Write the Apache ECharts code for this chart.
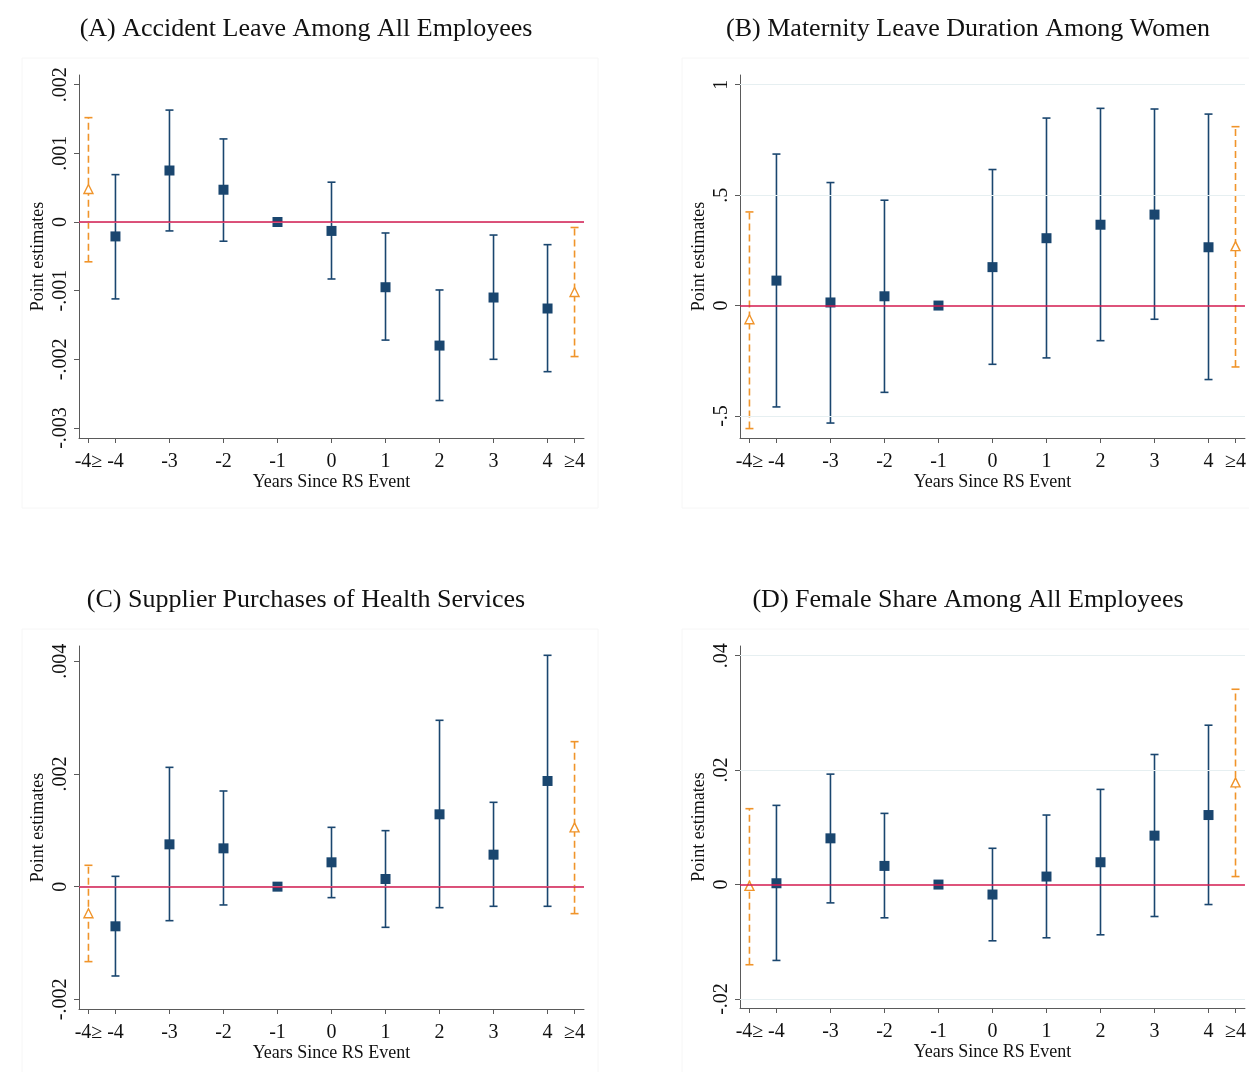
<!DOCTYPE html>
<html>
<head>
<meta charset="utf-8">
<script src="https://cdn.jsdelivr.net/npm/echarts@6/dist/echarts.min.js"></script>
<style>
html,body{margin:0;padding:0;background:#fff;}
#main{width:1249px;height:1072px;}
</style>
</head>
<body>
<div id="main"></div>
<script>
// ---------- shared x positions and labels ----------
const xs = [-4, -3, -2, -1, 0, 1, 2, 3, 4];
const endXs = [-4.5, 4.5];
const xTickVals = [-4.5, -4, -3, -2, -1, 0, 1, 2, 3, 4, 4.5];
const xTickLabels = ['-4\u2265', '-4', '-3', '-2', '-1', '0', '1', '2', '3', '4', '\u22654'];

// ---------- Panel A: Accident Leave Among All Employees ----------
const A_title = '(A) Accident Leave Among All Employees';
const A_est = [-0.00021, 0.00075, 0.00047, 0, -0.00013, -0.00095, -0.00180, -0.00110, -0.00126];
const A_lo  = [-0.00112, -0.00013, -0.00028, 0, -0.00083, -0.00172, -0.00260, -0.00200, -0.00218];
const A_hi  = [0.00069, 0.00163, 0.00121, 0, 0.00058, -0.00016, -0.00099, -0.00019, -0.00033];
const A_endEst = [0.00048, -0.00102];
const A_endLo  = [-0.00058, -0.00196];
const A_endHi  = [0.00152, -0.00008];
const A_yTicks = [-0.003, -0.002, -0.001, 0, 0.001, 0.002];
const A_yLabels = ['-.003', '-.002', '-.001', '0', '.001', '.002'];
const A_yRange = [-0.003146, 0.002141];

// ---------- Panel B: Maternity Leave Duration Among Women ----------
const B_title = '(B) Maternity Leave Duration Among Women';
const B_est = [0.113, 0.014, 0.042, 0, 0.174, 0.305, 0.366, 0.412, 0.264];
const B_lo  = [-0.459, -0.532, -0.393, 0, -0.266, -0.237, -0.159, -0.062, -0.335];
const B_hi  = [0.686, 0.557, 0.477, 0, 0.616, 0.849, 0.893, 0.890, 0.867];
const B_endEst = [-0.062, 0.269];
const B_endLo  = [-0.557, -0.278];
const B_endHi  = [0.424, 0.810];
const B_yTicks = [-0.5, 0, 0.5, 1];
const B_yLabels = ['-.5', '0', '.5', '1'];
const B_yRange = [-0.5997, 1.044];

// ---------- Panel C: Supplier Purchases of Health Services ----------
const C_title = '(C) Supplier Purchases of Health Services';
const C_est = [-0.000704, 0.000751, 0.000680, 0, 0.000432, 0.000136, 0.001284, 0.000568, 0.001876];
const C_lo  = [-0.001586, -0.000604, -0.000325, 0, -0.000195, -0.000722, -0.000373, -0.000349, -0.000349];
const C_hi  = [0.000183, 0.002118, 0.001698, 0, 0.001053, 0.000994, 0.002953, 0.001497, 0.004107];
const C_endEst = [-0.000473, 0.001053];
const C_endLo  = [-0.001331, -0.000479];
const C_endHi  = [0.000379, 0.002574];
const C_yTicks = [-0.002, 0, 0.002, 0.004];
const C_yLabels = ['-.002', '0', '.002', '.004'];
const C_yRange = [-0.002172, 0.004272];

// ---------- Panel D: Female Share Among All Employees ----------
const D_title = '(D) Female Share Among All Employees';
const D_est = [0.00023, 0.00808, 0.00326, 0, -0.00174, 0.00140, 0.00390, 0.00855, 0.01215];
const D_lo  = [-0.01326, -0.00320, -0.00581, 0, -0.00983, -0.00930, -0.00878, -0.00558, -0.00349];
const D_hi  = [0.01384, 0.01930, 0.01244, 0, 0.00634, 0.01215, 0.01663, 0.02273, 0.02785];
const D_endEst = [-0.00023, 0.01785];
const D_endLo  = [-0.01401, 0.00140];
const D_endHi  = [0.01326, 0.03413];
const D_yTicks = [-0.02, 0, 0.02, 0.04];
const D_yLabels = ['-.02', '0', '.02', '.04'];
const D_yRange = [-0.02157, 0.04169];

// ---------- styling ----------
const NAVY = '#1a466f';
const ORANGE = '#f0942a';
const RED = '#d31a4f';
const GRIDC = '#e6eff1';
const AXISC = '#5a5a5a';
const SERIF = '"Liberation Serif", "Times New Roman", serif';

const panels = [
  {title: A_title, est: A_est, lo: A_lo, hi: A_hi, eEst: A_endEst, eLo: A_endLo, eHi: A_endHi,
   ticks: A_yTicks, labels: A_yLabels, range: A_yRange, left: 79, top: 75, h: 363, cx: 301, ty: 11},
  {title: B_title, est: B_est, lo: B_lo, hi: B_hi, eEst: B_endEst, eLo: B_endLo, eHi: B_endHi,
   ticks: B_yTicks, labels: B_yLabels, range: B_yRange, left: 740, top: 75, h: 363, cx: 963, ty: 11},
  {title: C_title, est: C_est, lo: C_lo, hi: C_hi, eEst: C_endEst, eLo: C_endLo, eHi: C_endHi,
   ticks: C_yTicks, labels: C_yLabels, range: C_yRange, left: 79, top: 646, h: 363, cx: 301, ty: 582},
  {title: D_title, est: D_est, lo: D_lo, hi: D_hi, eEst: D_endEst, eLo: D_endLo, eHi: D_endHi,
   ticks: D_yTicks, labels: D_yLabels, range: D_yRange, left: 740, top: 646, h: 362, cx: 963, ty: 582}
];

function errRender(color, dashed) {
  return function (params, api) {
    const x = api.value(0), lo = api.value(1), hi = api.value(2);
    const pLo = api.coord([x, lo]);
    const pHi = api.coord([x, hi]);
    const w = 4;
    const lineStyle = {stroke: color, lineWidth: 1.6, lineDash: dashed ? [7, 4] : null, fill: null};
    const capStyle = {stroke: color, lineWidth: 1.6, fill: null};
    return {
      type: 'group',
      children: [
        {type: 'line', shape: {x1: pLo[0], y1: pLo[1], x2: pHi[0], y2: pHi[1]}, style: lineStyle},
        {type: 'line', shape: {x1: pLo[0] - w, y1: pLo[1], x2: pLo[0] + w, y2: pLo[1]}, style: capStyle},
        {type: 'line', shape: {x1: pHi[0] - w, y1: pHi[1], x2: pHi[0] + w, y2: pHi[1]}, style: capStyle}
      ]
    };
  };
}

const option = {
  backgroundColor: '#fff',
  animation: false,
  title: [],
  grid: [],
  xAxis: [],
  yAxis: [],
  series: [],
  graphic: [
    {type: 'rect', shape: {x: 22, y: 58, width: 576, height: 450}, style: {fill: null, stroke: '#f6f6f6', lineWidth: 1}, silent: true},
    {type: 'rect', shape: {x: 682, y: 58, width: 570, height: 450}, style: {fill: null, stroke: '#f6f6f6', lineWidth: 1}, silent: true},
    {type: 'rect', shape: {x: 22, y: 629, width: 576, height: 450}, style: {fill: null, stroke: '#f6f6f6', lineWidth: 1}, silent: true},
    {type: 'rect', shape: {x: 682, y: 629, width: 570, height: 450}, style: {fill: null, stroke: '#f6f6f6', lineWidth: 1}, silent: true}
  ]
};

panels.forEach(function (p, i) {
  option.title.push({
    text: p.title, left: p.cx, top: p.ty, textAlign: 'center',
    textStyle: {fontFamily: SERIF, fontSize: 26, fontWeight: 'normal', color: '#111'}
  });
  option.grid.push({left: p.left, top: p.top, width: 505, height: p.h, containLabel: false});
  option.xAxis.push({
    type: 'value', gridIndex: i, min: -4.675, max: 4.675,
    name: 'Years Since RS Event', nameLocation: 'middle', nameGap: 35,
    nameTextStyle: {fontFamily: SERIF, fontSize: 18, color: '#111'},
    axisLine: {show: true, onZero: false, lineStyle: {color: AXISC, width: 1}},
    axisTick: {show: true, inside: false, length: 5, customValues: xTickVals, lineStyle: {color: AXISC}},
    axisLabel: {
      customValues: xTickVals, margin: 14, fontFamily: SERIF, fontSize: 20, color: '#111',
      formatter: function (v) {
        for (let k = 0; k < xTickVals.length; k++) if (Math.abs(xTickVals[k] - v) < 1e-6) return xTickLabels[k];
        return '';
      }
    },
    splitLine: {show: false}
  });
  option.yAxis.push({
    type: 'value', gridIndex: i, min: p.range[0], max: p.range[1],
    name: 'Point estimates', nameLocation: 'middle', nameGap: 32,
    nameTextStyle: {fontFamily: SERIF, fontSize: 18, color: '#111'},
    axisLine: {show: true, onZero: false, lineStyle: {color: AXISC, width: 1}},
    axisTick: {show: true, inside: false, length: 5, customValues: p.ticks, lineStyle: {color: AXISC}},
    axisLabel: {
      customValues: p.ticks, rotate: 90, margin: 8, fontFamily: SERIF, fontSize: 20, color: '#111',
      formatter: (function (ticks, labels) {
        return function (v) {
          for (let k = 0; k < ticks.length; k++) if (Math.abs(ticks[k] - v) < 1e-9) return labels[k];
          return '';
        };
      })(p.ticks, p.labels)
    },
    splitLine: {show: false}
  });
  // gridlines + zero line
  const gl = p.ticks.filter(function (t) { return t !== 0; }).map(function (t) {
    return {yAxis: t, lineStyle: {color: GRIDC, width: 1, type: 'solid'}};
  });
  gl.push({yAxis: 0, lineStyle: {color: RED, width: 1.6, type: 'solid'}});
  option.series.push({
    type: 'scatter', xAxisIndex: i, yAxisIndex: i, data: [], z: 1, silent: true,
    markLine: {silent: true, symbol: ['none', 'none'], label: {show: false}, animation: false, data: gl}
  });
  // navy CIs
  option.series.push({
    type: 'custom', xAxisIndex: i, yAxisIndex: i, z: 3, silent: true,
    renderItem: errRender(NAVY, false),
    encode: {x: 0, y: [1, 2]},
    data: xs.map(function (x, k) { return [x, p.lo[k], p.hi[k]]; })
  });
  // orange CIs
  option.series.push({
    type: 'custom', xAxisIndex: i, yAxisIndex: i, z: 3, silent: true,
    renderItem: errRender(ORANGE, true),
    encode: {x: 0, y: [1, 2]},
    data: endXs.map(function (x, k) { return [x, p.eLo[k], p.eHi[k]]; })
  });
  // navy squares
  option.series.push({
    type: 'scatter', xAxisIndex: i, yAxisIndex: i, z: 4, silent: true,
    symbol: 'rect', symbolSize: 10,
    itemStyle: {color: NAVY, opacity: 1},
    data: xs.map(function (x, k) { return [x, p.est[k]]; })
  });
  // orange hollow triangles
  option.series.push({
    type: 'scatter', xAxisIndex: i, yAxisIndex: i, z: 4, silent: true,
    symbol: 'triangle', symbolSize: 9,
    itemStyle: {color: '#fff', borderColor: ORANGE, borderWidth: 1.4, opacity: 1},
    data: endXs.map(function (x, k) { return [x, p.eEst[k]]; })
  });
});

const chart = echarts.init(document.getElementById('main'), null, {renderer: 'canvas'});
chart.setOption(option);
</script>
</body>
</html>
